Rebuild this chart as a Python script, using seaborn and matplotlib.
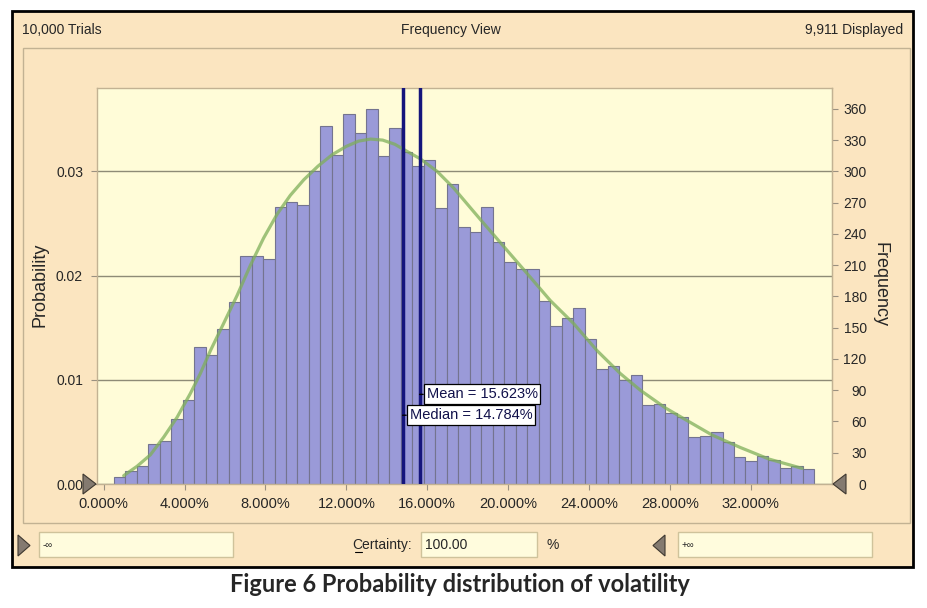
import numpy as np
import pandas as pd
import matplotlib
matplotlib.use("Agg")
import matplotlib.pyplot as plt
import seaborn as sns
from matplotlib.patches import Rectangle, Polygon
from matplotlib.lines import Line2D
from matplotlib.ticker import FuncFormatter

# histogram counts, 61 bins
counts = [7, 12, 17, 38, 41, 62, 81, 131, 124, 149,
          175, 219, 219, 216, 266, 271, 268, 300, 344, 316,
          355, 337, 360, 315, 342, 319, 305, 311, 265, 288,
          247, 242, 266, 232, 213, 206, 206, 176, 152, 159,
          169, 139, 110, 113, 100, 105, 76, 77, 68, 64,
          45, 46, 50, 40, 26, 22, 27, 23, 15, 17, 14]
bin_lo, bin_hi = 0.495, 35.15   # volatility %, first / last bin edge

# fitted curve (volatility %, frequency)
curve_x = [0.99, 1.65, 2.31, 2.97, 3.63, 4.29, 4.78, 5.28, 5.93, 6.60,
           7.26, 7.91, 8.58, 9.23, 9.90, 10.6, 11.3, 12.0, 12.6, 13.2,
           13.8, 14.4, 14.84, 15.66, 16.49, 17.31, 18.14, 18.71, 19.29, 20.94,
           22.09, 23.24, 24.40, 25.55, 26.54, 27.78, 28.93, 30.09, 31.49, 32.89,
           34.54]
curve_y = [8, 17, 28, 45, 64, 87, 106, 128, 154, 181,
           210, 236, 259, 277, 292, 305, 316, 324, 329, 331,
           330, 326, 321, 312, 300, 284, 265, 252, 239, 202,
           176, 154, 128, 106, 90, 73, 60, 47, 35, 24,
           15]

mean_val = 15.623
median_val = 14.784
trials = 10000
displayed = 9911
x_ticks = [0, 4, 8, 12, 16, 20, 24, 28, 32]
prob_ticks = [0.00, 0.01, 0.02, 0.03]
freq_ticks = list(range(0, 361, 30))

W, H = 928, 608
TAN = "#FBE5C0"
PLOT_BG = "#FFFCD8"
BAR = "#9A9AD8"
BAR_EDGE = "#74748F"
GRID = "#8E8B76"
NAVY = "#15157C"
PANEL_LINE = "#C2B293"
TICK = "#9A9080"

sns.set_style("white")
plt.rcParams["font.family"] = ["Liberation Sans", "DejaVu Sans"]


def fx(x):
    return x / W


def fy(y):
    return 1 - y / H


fig = plt.figure(figsize=(W / 100, H / 100), dpi=100)
fig.patch.set_facecolor("white")

# window frame and inner panel
fig.add_artist(Rectangle((fx(12), fy(567)), fx(913) - fx(12), fy(11) - fy(567),
                         transform=fig.transFigure, facecolor=TAN, edgecolor="black",
                         lw=2, zorder=-10))
fig.add_artist(Rectangle((fx(23), fy(523)), fx(910) - fx(23), fy(48) - fy(523),
                         transform=fig.transFigure, facecolor="none",
                         edgecolor=PANEL_LINE, lw=1, zorder=-9))

fig.text(fx(22), fy(30), f"{trials:,} Trials", ha="left", va="center", fontsize=10)
fig.text(fx(451), fy(30), "Frequency View", ha="center", va="center", fontsize=10)
fig.text(fx(903), fy(30), f"{displayed:,} Displayed", ha="right", va="center", fontsize=10)

ax = fig.add_axes([fx(97), fy(484), fx(832) - fx(97), fy(88) - fy(484)])
ax.set_facecolor(PLOT_BG)

edges = np.linspace(bin_lo, bin_hi, len(counts) + 1)
hist = pd.DataFrame({"vol": (edges[:-1] + edges[1:]) / 2, "n": counts})
sns.histplot(data=hist, x="vol", weights="n", bins=len(counts), binrange=(bin_lo, bin_hi),
             stat="count", color=BAR, edgecolor=BAR_EDGE, linewidth=0.8, alpha=1, ax=ax)

sns.lineplot(x=curve_x, y=curve_y, color="#7FAF5A", lw=2.3, alpha=0.75, ax=ax)

ax.axvline(median_val, color=NAVY, lw=2.5, zorder=4)
ax.axvline(mean_val, color=NAVY, lw=2.5, zorder=4)

box = dict(boxstyle="square,pad=0.2", facecolor="white", edgecolor="black", lw=0.9)
ax.annotate(f"Mean = {mean_val:.3f}%", xy=(mean_val, 86), xytext=(5, 0),
            textcoords="offset points", ha="left", va="center", fontsize=10.5,
            color="#10104A", bbox=box, arrowprops=dict(arrowstyle="-", lw=1, color="black",
                                                      shrinkA=0, shrinkB=0), zorder=6)
ax.annotate(f"Median = {median_val:.3f}%", xy=(median_val, 66), xytext=(5, 0),
            textcoords="offset points", ha="left", va="center", fontsize=10.5,
            color="#10104A", bbox=box, arrowprops=dict(arrowstyle="-", lw=1, color="black",
                                                      shrinkA=0, shrinkB=0), zorder=6)

ax.set_xlim(-0.33, 36.02)
ax.set_ylim(0, 380)
ax.set_xlabel("")
ax.set_ylabel("")

ax.set_yticks([p * trials for p in prob_ticks])
ax.yaxis.set_major_formatter(FuncFormatter(lambda v, _: f"{v / trials:.2f}"))
ax.set_xticks(x_ticks)
ax.set_xticklabels([f"{t:.3f}%" for t in x_ticks])
ax.grid(axis="y", color=GRID, lw=1)
ax.set_axisbelow(True)
for s in ax.spines.values():
    s.set_color(PANEL_LINE)
    s.set_linewidth(1)
ax.tick_params(axis="y", left=True, length=4, width=0.8, color=TICK,
               pad=6, labelsize=10)
ax.tick_params(axis="x", bottom=True, length=4, width=0.8, color=TICK,
               pad=5, labelsize=10.5)

sec = ax.secondary_yaxis("right")
sec.set_yticks(freq_ticks)
sec.spines["right"].set_color(PANEL_LINE)
sec.tick_params(length=4, width=0.8, color=TICK, pad=21, labelsize=10)
for lab in sec.get_yticklabels():
    lab.set_horizontalalignment("right")

fig.text(fx(40), fy(285), "Probability", rotation=90, ha="center", va="center", fontsize=13)
fig.text(fx(880), fy(285), "Frequency", rotation=270, ha="center", va="center", fontsize=13)


# grey slider arrows
def tri(pts):
    fig.add_artist(Polygon([(fx(a), fy(b)) for a, b in pts], closed=True,
                           transform=fig.transFigure, facecolor="#847A70",
                           edgecolor="#3E3830", lw=0.8, zorder=5))


tri([(83, 474), (83, 494), (96, 484)])
tri([(846, 474), (846, 494), (833, 484)])
tri([(18, 535), (18, 556), (30, 545.5)])
tri([(665, 535), (665, 556), (653, 545.5)])

# bottom control row
for x0, x1 in [(39, 233), (421, 537), (678, 872)]:
    fig.add_artist(Rectangle((fx(x0), fy(557)), fx(x1) - fx(x0), fy(532) - fy(557),
                             transform=fig.transFigure, facecolor="#FFFCDD",
                             edgecolor="#CFC39B", lw=1, zorder=-8))
fig.text(fx(43), fy(545), "-\u221e", ha="left", va="center", fontsize=7)
fig.text(fx(682), fy(545), "+\u221e", ha="left", va="center", fontsize=7)
fig.text(fx(412), fy(545), "Certainty:", ha="right", va="center", fontsize=10)
fig.add_artist(Line2D([fx(355), fx(362)], [fy(552), fy(552)], color="black", lw=0.8,
                      transform=fig.transFigure))
fig.text(fx(425), fy(545), "100.00", ha="left", va="center", fontsize=10)
fig.text(fx(553), fy(545), "%", ha="center", va="center", fontsize=10)

fig.text(fx(460), fy(585), "Figure 6 Probability distribution of volatility", ha="center",
         va="center", fontsize=17, fontweight="bold", family=["Lato", "DejaVu Sans"])

fig.savefig("out.png", dpi=100, facecolor="white")
